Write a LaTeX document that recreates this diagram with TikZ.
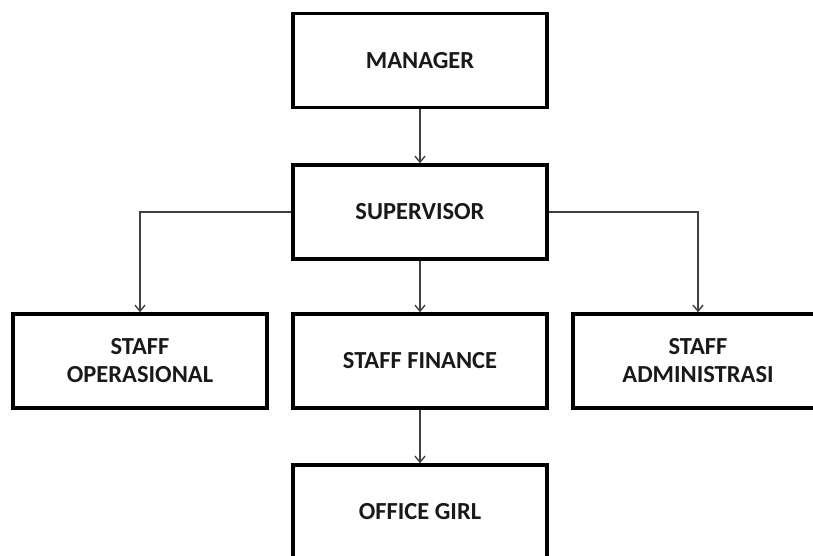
\documentclass[tikz,border=0pt]{standalone}
\usepackage{fontspec}
\setmainfont{Carlito}
\usetikzlibrary{arrows.meta}
\begin{document}
\begin{tikzpicture}[x=1pt,y=-1pt,
  box/.style={draw=black, line width=3.5pt, minimum width=254pt, minimum height=94pt,
    inner sep=0pt, align=center, text=black!90,
    font=\bfseries\fontsize{24.5}{28}\selectfont},
  conn/.style={draw=black!75, line width=1.4pt,
    -{Straight Barb[length=6pt,width=10pt,line width=1.4pt]}}]
\useasboundingbox (0,0) rectangle (813,556);
\clip (0,0) rectangle (813,556);
\node[box] (mgr) at (420,60.5) {MANAGER};
\node[box] (sup) at (420,212) {SUPERVISOR};
\node[box] (op)  at (140,361) {STAFF\\OPERASIONAL};
\node[box] (fin) at (420,361) {STAFF FINANCE};
\node[box, minimum width=250pt] (adm) at (698,361) {STAFF\\ADMINISTRASI};
\node[box] (og)  at (420,512) {OFFICE GIRL};
\draw[conn] (mgr.south) -- (sup.north);
\draw[conn] (sup.west) -| (op.north);
\draw[conn] (sup.south) -- (fin.north);
\draw[conn] (sup.east) -| (adm.north);
\draw[conn] (fin.south) -- (og.north);
\end{tikzpicture}
\end{document}
